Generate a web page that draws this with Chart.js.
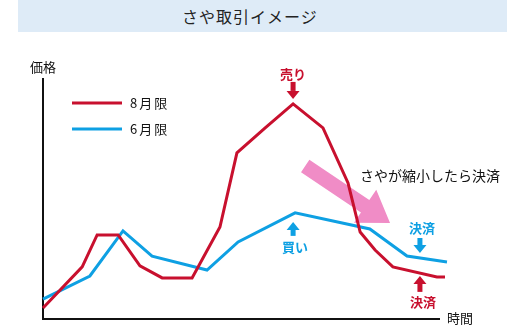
<!DOCTYPE html>
<html>
<head>
<meta charset="utf-8">
<script src="https://cdn.jsdelivr.net/npm/chart.js@4"></script>
<style>
body { margin: 0; background: #fff; }
#wrap { position: relative; width: 525px; height: 330px; }
#band {
    position: absolute; left: 18px; top: 0; width: 489px; height: 32px;
    background: #deebf7; font-family: "Noto Sans CJK JP", sans-serif;
    font-size: 16px; line-height: 32px; color: #222; letter-spacing: 1px;
}
#band span { position: absolute; left: 164px; }
canvas { position: absolute; left: 0; top: 0; }
</style>
</head>
<body>
<div id="wrap">
    <div id="band"><span>さや取引イメージ</span></div>
    <canvas id="chart" width="525" height="330"></canvas>
</div>
<script>
// time (0-100) / price (0-100)
const seriesLabels = ['8月限', '6月限'];
const redX = [0, 9.7, 13.4, 18.6, 24.0, 29.5, 36.9, 43.8, 48.0, 55.0, 61.9, 69.3, 75.5, 78.5, 82.2, 86.6, 97.5, 99.5];
const redY = [4.2, 21.3, 34.6, 34.6, 21.7, 16.7, 16.7, 37.9, 68.8, 79.2, 89.2, 79.2, 56.3, 35.8, 28.3, 21.3, 17.1, 17.1];
const blueX = [0, 11.6, 19.8, 27.0, 40.6, 48.3, 62.4, 80.9, 90.1, 100];
const blueY = [7.9, 17.5, 36.3, 25.8, 20.0, 31.7, 43.8, 37.1, 25.8, 23.3];
// pink "spread narrows" arrow: start and tip (time, price)
const spreadArrow = [[64.9, 63.3], [85.9, 39.6]];

const RED = '#c8102e';
const BLUE = '#0ea0e3';
const PINK = '#f08cc6';
const FONT = '"Noto Sans CJK JP", sans-serif';

const toPoints = (xs, ys) => xs.map((x, i) => ({ x: x, y: ys[i] }));

function smallArrow(ctx, x, yFrom, yTo, color) {
    // vertical block arrow, tip at yTo
    const dir = yTo > yFrom ? 1 : -1;
    const headLen = 8, headW = 13, stemW = 5;
    const yBase = yTo - dir * headLen;
    ctx.fillStyle = color;
    ctx.fillRect(x - stemW / 2, Math.min(yFrom, yBase), stemW, Math.abs(yBase - yFrom));
    ctx.beginPath();
    ctx.moveTo(x - headW / 2, yBase);
    ctx.lineTo(x + headW / 2, yBase);
    ctx.lineTo(x, yTo);
    ctx.closePath();
    ctx.fill();
}

function label(ctx, text, x, y, color, bold, size, align) {
    ctx.font = (bold ? 'bold ' : '') + size + 'px ' + FONT;
    ctx.fillStyle = color;
    ctx.textAlign = align || 'center';
    ctx.textBaseline = 'middle';
    ctx.fillText(text, x, y);
}

const decorations = {
    id: 'decorations',
    beforeDatasetsDraw(chart) {
        const ctx = chart.ctx;
        const xs = chart.scales.x, ys = chart.scales.y;
        // big pink arrow behind the lines
        const x0 = xs.getPixelForValue(spreadArrow[0][0]), y0 = ys.getPixelForValue(spreadArrow[0][1]);
        const x1 = xs.getPixelForValue(spreadArrow[1][0]), y1 = ys.getPixelForValue(spreadArrow[1][1]);
        const len = Math.hypot(x1 - x0, y1 - y0);
        const ux = (x1 - x0) / len, uy = (y1 - y0) / len;
        const nx = -uy, ny = ux;
        const bandW = 15, headW = 40, headLen = 30;
        const bx = x1 - ux * headLen, by = y1 - uy * headLen;
        ctx.save();
        ctx.fillStyle = PINK;
        ctx.beginPath();
        ctx.moveTo(x0 + nx * bandW / 2, y0 + ny * bandW / 2);
        ctx.lineTo(bx + nx * bandW / 2, by + ny * bandW / 2);
        ctx.lineTo(bx + nx * headW / 2, by + ny * headW / 2);
        ctx.lineTo(x1, y1);
        ctx.lineTo(bx - nx * headW / 2, by - ny * headW / 2);
        ctx.lineTo(bx - nx * bandW / 2, by - ny * bandW / 2);
        ctx.lineTo(x0 - nx * bandW / 2, y0 - ny * bandW / 2);
        ctx.closePath();
        ctx.fill();

        // axes
        const a = chart.chartArea;
        ctx.strokeStyle = '#111';
        ctx.lineWidth = 2;
        ctx.beginPath();
        ctx.moveTo(a.left, a.top);
        ctx.lineTo(a.left, a.bottom + 1);
        ctx.lineTo(a.right - 7, a.bottom + 1);
        ctx.stroke();
        ctx.restore();
    },
    afterDatasetsDraw(chart) {
        const ctx = chart.ctx;
        const a = chart.chartArea;
        const xs = chart.scales.x, ys = chart.scales.y;
        ctx.save();
        label(ctx, '価格', a.left, a.top - 11, '#111', false, 13);
        label(ctx, '時間', a.right + 13, a.bottom, '#111', false, 13);

        // legend
        chart.data.datasets.forEach((ds, i) => {
            const y = a.top + 25 + i * 26;
            ctx.strokeStyle = ds.borderColor;
            ctx.lineWidth = 3;
            ctx.beginPath();
            ctx.moveTo(a.left + 29, y);
            ctx.lineTo(a.left + 79, y);
            ctx.stroke();
            ctx.letterSpacing = '2px';
            label(ctx, ds.label, a.left + 87, y, '#111', false, 13, 'left');
            ctx.letterSpacing = '0px';
        });

        label(ctx, 'さやが縮小したら決済', 360, 176, '#111', false, 14, 'left');

        // sell at the 8月限 peak
        const sx = xs.getPixelForValue(redX[10]), sy = ys.getPixelForValue(redY[10]);
        smallArrow(ctx, sx, sy - 22, sy - 5, RED);
        label(ctx, '売り', sx, sy - 30, RED, true, 13);

        // buy at the 6月限 peak
        const bx = xs.getPixelForValue(blueX[6]), by = ys.getPixelForValue(blueY[6]);
        smallArrow(ctx, bx - 2, by + 23, by + 9, BLUE);
        label(ctx, '買い', bx, by + 34, BLUE, true, 13);

        // closing both legs
        const cx = xs.getPixelForValue(93.3);
        const cyBlue = ys.getPixelForValue(25.0), cyRed = ys.getPixelForValue(18.8);
        smallArrow(ctx, cx, cyBlue - 20, cyBlue - 5, BLUE);
        label(ctx, '決済', cx + 2, cyBlue - 30, BLUE, true, 13);
        smallArrow(ctx, cx, cyRed + 19, cyRed + 3, RED);
        label(ctx, '決済', cx + 3, cyRed + 29, RED, true, 13);
        ctx.restore();
    }
};

new Chart(document.getElementById('chart'), {
    type: 'line',
    data: {
        datasets: [
            {
                label: seriesLabels[0],
                data: toPoints(redX, redY),
                borderColor: RED,
                borderWidth: 3,
                pointRadius: 0,
                tension: 0,
                fill: false
            },
            {
                label: seriesLabels[1],
                data: toPoints(blueX, blueY),
                borderColor: BLUE,
                borderWidth: 3,
                pointRadius: 0,
                tension: 0,
                fill: false
            }
        ]
    },
    options: {
        responsive: false,
        animation: false,
        clip: false,
        layout: { padding: { left: 43, right: 78, top: 78, bottom: 12 } },
        plugins: {
            legend: { display: false },
            tooltip: { enabled: false }
        },
        scales: {
            x: { type: 'linear', min: 0, max: 100, display: false },
            y: { min: 0, max: 100, display: false }
        }
    },
    plugins: [decorations]
});
</script>
</body>
</html>
